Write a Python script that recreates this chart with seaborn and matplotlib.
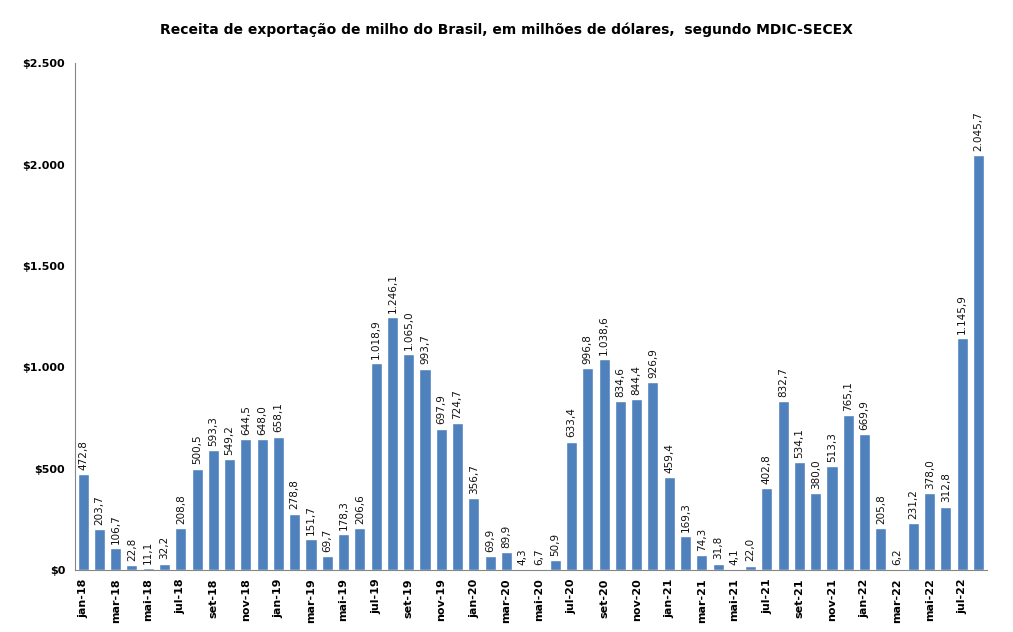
import matplotlib
matplotlib.use("Agg")
import matplotlib.pyplot as plt
import seaborn as sns
import pandas as pd

meses = ["jan", "fev", "mar", "abr", "mai", "jun", "jul", "ago", "set", "out", "nov", "dez"]
anos = ["18", "19", "20", "21", "22"]
periodos = [f"{m}-{a}" for a in anos for m in meses][:56]

# receita mensal, milhões de US$
receita = [
    472.8, 203.7, 106.7, 22.8, 11.1, 32.2, 208.8, 500.5, 593.3, 549.2, 644.5, 648.0,
    658.1, 278.8, 151.7, 69.7, 178.3, 206.6, 1018.9, 1246.1, 1065.0, 993.7, 697.9, 724.7,
    356.7, 69.9, 89.9, 4.3, 6.7, 50.9, 633.4, 996.8, 1038.6, 834.6, 844.4, 926.9,
    459.4, 169.3, 74.3, 31.8, 4.1, 22.0, 402.8, 832.7, 534.1, 380.0, 513.3, 765.1,
    669.9, 205.8, 6.2, 231.2, 378.0, 312.8, 1145.9, 2045.7,
]

df = pd.DataFrame({"periodo": periodos, "receita": receita})


def fmt_br(v, dec=1):
    s = f"{v:,.{dec}f}"
    return s.replace(",", "X").replace(".", ",").replace("X", ".")


sns.set_style("white")
plt.rcParams["font.family"] = ["DejaVu Sans"]
plt.rcParams["text.color"] = "black"
plt.rcParams["xtick.color"] = "black"
plt.rcParams["ytick.color"] = "black"

fig = plt.figure(figsize=(10.13, 6.32), dpi=100)
ax = fig.add_axes([0.074, 0.098, 0.9, 0.802])

sns.barplot(data=df, x="periodo", y="receita", color="#4F81BD", saturation=1,
            width=0.68, ax=ax)

ax.bar_label(ax.containers[0], labels=[fmt_br(v) for v in receita],
             rotation=90, padding=3, fontsize=7.5, color="#111111")

ax.set_ylim(0, 2500)
ax.set_xlim(-0.5, len(periodos) - 0.5)
ax.set_yticks(range(0, 2501, 500))
ax.set_yticklabels(["$" + fmt_br(v, 0) for v in range(0, 2501, 500)],
                   fontweight="bold", fontsize=8)

pos = list(range(0, len(periodos), 2))
ax.set_xticks(pos)
ax.set_xticklabels([periodos[i] for i in pos], rotation=90, fontweight="bold", fontsize=8)
ax.set_xticks([i - 0.5 for i in pos] + [len(periodos) - 0.5], minor=True)
ax.tick_params(axis="x", which="major", length=0, pad=6)
ax.tick_params(axis="x", which="minor", length=5, color="#868686", width=0.8)
ax.tick_params(axis="y", length=4, color="#868686", width=0.8, pad=3)

ax.set_xlabel("")
ax.set_ylabel("")
sns.despine(ax=ax)
for s in ["left", "bottom"]:
    ax.spines[s].set_color("#868686")
    ax.spines[s].set_linewidth(0.8)

fig.suptitle("Receita de exportação de milho do Brasil, em milhões de dólares,  segundo MDIC-SECEX",
             x=0.5, y=0.965, fontsize=10, fontweight="bold", color="black")

fig.savefig("out.png", dpi=100)
